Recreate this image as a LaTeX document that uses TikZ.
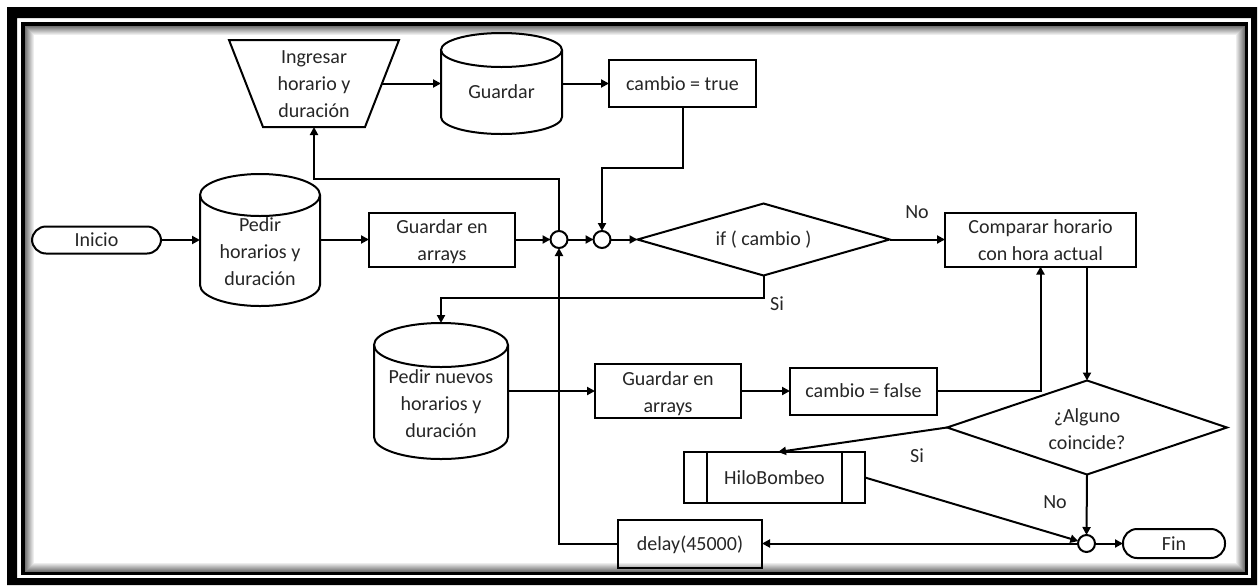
\documentclass[tikz,border=0pt]{standalone}
\usepackage{fontspec}
\setmainfont{Carlito}
\usetikzlibrary{arrows.meta,shapes.geometric,calc}

% multi-line text shifted down inside a node, keeping the node's own size
\newcommand\lowered[2]{\raisebox{-#1}[\height][\depth]{\begin{tabular}{@{}c@{}}#2\end{tabular}}}

\begin{document}
\begin{tikzpicture}[x=1pt,y=-1pt,
  every node/.style={font=\fontsize{20pt}{27pt}\selectfont, text=black!85, inner sep=0pt, outer sep=0pt},
  line/.style={line width=2pt, draw=black},
  arr/.style={line, -{Triangle[length=8pt,width=8pt]}},
  proc/.style={draw=black, line width=2pt, rectangle, align=center},
  term/.style={draw=black, line width=2pt, rectangle, rounded corners=14pt, align=center},
  drum/.style={rectangle, align=center},
  junct/.style={draw=black, line width=2pt, circle, minimum size=17pt, fill=white},
  choice/.style={draw=black, line width=2pt, diamond, align=center},
  lbl/.style={}
]
\useasboundingbox (0,0) rectangle (1260,587);
\fill[white] (0,0) rectangle (1260,587);

% page frame: heavy outer band, thin inner rule and a soft inner shadow
\fill[black, even odd rule] (7,7) rectangle (1257,585) (17,18) rectangle (1251,578);
\draw[line width=3.5pt] (23,24) rectangle (1246.5,573.5);
\foreach \i in {0,...,8}{
  \pgfmathtruncatemacro\g{55-6*\i}
  \draw[line width=1.05pt, black!\g] (25.5+\i,26.5+\i) rectangle (1244.5-\i,571.5-\i);
}

% nodes
\node[term, minimum width=129pt, minimum height=27pt] (inicio) at (96.5,240) {Inicio};
\node[drum, minimum width=120pt, minimum height=132pt] (pedir) at (260,240) {\lowered{13pt}{Pedir\\horarios y\\duración}};
\node[proc, minimum width=146pt, minimum height=47pt] (g1) at (442,239.5) {\lowered{2.5pt}{Guardar en\\arrays}};
\node[junct] (c1) at (559,239.5) {};
\node[junct] (c2) at (602,239.5) {};
\node[choice, minimum width=252pt, minimum height=72pt, aspect=3.5] (ifc) at (763.5,239.5) {if ( cambio )};
\node[proc, minimum width=191pt, minimum height=47pt] (comp) at (1040.5,239.5) {\lowered{2.5pt}{Comparar horario\\con hora actual}};

\node[align=center, minimum width=170pt, minimum height=87pt] (ing) at (314,83.5) {\lowered{1.5pt}{Ingresar\\horario y\\duración}};
\node[drum, minimum width=121pt, minimum height=101pt] (gcyl) at (501.5,83.5) {\lowered{9.5pt}{Guardar}};
\node[proc, minimum width=147pt, minimum height=47pt] (ctrue) at (682.5,83.5) {cambio = true};

\node[drum, minimum width=134pt, minimum height=136pt] (pn) at (441,391) {\lowered{14pt}{Pedir nuevos\\horarios y\\duración}};
\node[proc, minimum width=146pt, minimum height=48pt] (g2) at (668,391) {\lowered{2.5pt}{Guardar en\\arrays}};
\node[proc, minimum width=147pt, minimum height=47pt] (cfalse) at (863.5,391) {cambio = false};
\node[choice, minimum width=280pt, minimum height=94pt, aspect=3] (alg) at (1087,427.5) {\lowered{3.5pt}{¿Alguno\\coincide?}};
\node[proc, minimum width=181pt, minimum height=51pt] (hilo) at (774.5,477.5) {HiloBombeo};
\node[proc, minimum width=144pt, minimum height=48pt] (delay) at (690,543.5) {\lowered{1.5pt}{delay(45000)}};
\node[junct] (c3) at (1086.5,543.5) {};
\node[term, minimum width=102pt, minimum height=29pt] (fin) at (1174,543.5) {Fin};

% storage drums (name / x radius / y radius)
\foreach \n/\rx/\ry in {pedir/60/21, gcyl/60.5/17, pn/67/22}{
  \draw[line] ([yshift=-\ry pt]\n.north west) -- ([yshift=\ry pt]\n.south west)
    arc[start angle=180, end angle=360, x radius=\rx pt, y radius=\ry pt]
    -- ([yshift=-\ry pt]\n.north east);
  \draw[line] ([yshift=-\ry pt]\n.north) ellipse [x radius=\rx pt, y radius=\ry pt];
}

% manual input trapezoid
\draw[line] (ing.north west) -- (ing.north east) -- ([xshift=-34pt]ing.south east)
  -- ([xshift=34pt]ing.south west) -- cycle;

% predefined process side bars
\draw[line] ([xshift=23pt]hilo.north west) -- ([xshift=23pt]hilo.south west);
\draw[line] ([xshift=-23pt]hilo.north east) -- ([xshift=-23pt]hilo.south east);

% connectors
\draw[arr] (inicio.east) -- (inicio.east -| pedir.west);
\draw[arr] (pedir.east |- g1.west) -- (g1.west);
\draw[arr] (g1.east) -- (c1.west);
\draw[arr] (c1.east) -- (c2.west);
\draw[arr] (c2.east) -- (ifc.west);
\draw[arr] (c1.north) -- ++(0,-52) -| (ing.south);
\draw[arr] ([xshift=-17pt]ing.east) -- (ing.east -| gcyl.west);
\draw[arr] (gcyl.east) -- (ctrue.west);
\draw[arr] (ctrue.south) -- ++(0,61) -| (c2.north);
\draw[arr] (ifc.east) -- (comp.west);
\draw[arr] (ifc.south) -- ++(0,22) -| (pn.north);
\draw[arr] (pn.east |- g2.west) -- (g2.west);
\draw[arr] (g2.east) -- (cfalse.west);
\draw[arr] (cfalse.east) -| (comp.south);
\draw[arr] (alg.north |- comp.south) -- (alg.north);
\draw[arr] (alg.west) -- ([xshift=3.5pt]hilo.north);
\draw[arr] (alg.south) -- (c3.north);
\draw[arr] (hilo.east) -- (c3);
\draw[arr] (c3.east) -- (fin.west);
\draw[arr] (c3.west) -- (delay.east);
\draw[arr] (delay.west) -| (c1.south);

% branch labels
\node[lbl] (no1) at (917,212) {No};
\node[lbl] (si1) at (777,304) {Si};
\node[lbl] (si2) at (917,456) {Si};
\node[lbl] (no2) at (1055,502) {No};
\end{tikzpicture}
\end{document}
